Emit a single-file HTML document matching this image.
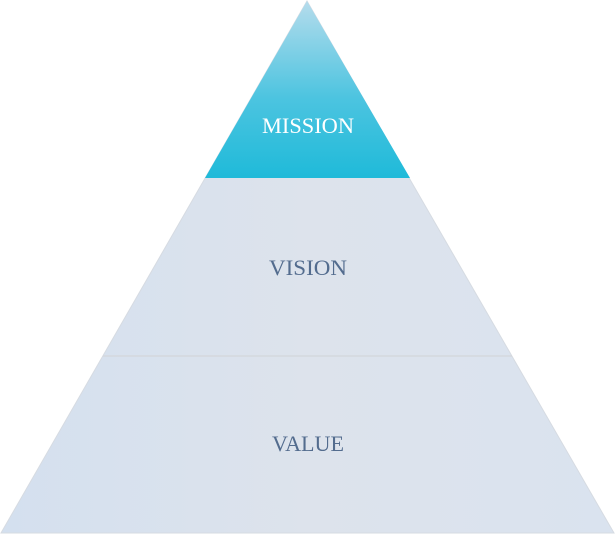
<!DOCTYPE html>
<html><head><meta charset="utf-8"><style>
html,body{margin:0;padding:0;background:#fff;width:615px;height:534px;overflow:hidden}
</style></head><body>
<svg width="615" height="534" viewBox="0 0 615 534" xmlns="http://www.w3.org/2000/svg">
<defs>
<linearGradient id="m" x1="0" y1="0" x2="0" y2="1">
<stop offset="0" stop-color="#b5dcec"/>
<stop offset="0.55" stop-color="#4cc4e0"/>
<stop offset="1" stop-color="#1fbad9"/>
</linearGradient>
<linearGradient id="g" x1="0" y1="0" x2="1" y2="0">
<stop offset="0" stop-color="#d4e0ef"/>
<stop offset="0.5" stop-color="#dde3ec"/>
<stop offset="1" stop-color="#dae3ef"/>
</linearGradient>
</defs>
<polygon points="307,1 1,533 614,533" fill="url(#g)" stroke="#d6dbe2" stroke-width="1"/>
<polygon points="307,1 205,178 410,178" fill="url(#m)"/>
<line x1="103" y1="356" x2="512" y2="356" stroke="#d3d6da" stroke-width="1.2"/>
<g font-family="'Liberation Serif',serif" font-size="22" text-anchor="middle">
<text x="308" y="133" fill="#ffffff" textLength="92" lengthAdjust="spacingAndGlyphs">MISSION</text>
<text x="308" y="275" fill="#536c8e" textLength="78" lengthAdjust="spacingAndGlyphs">VISION</text>
<text x="308" y="451" fill="#536c8e" textLength="72" lengthAdjust="spacingAndGlyphs">VALUE</text>
</g>
</svg>
</body></html>
